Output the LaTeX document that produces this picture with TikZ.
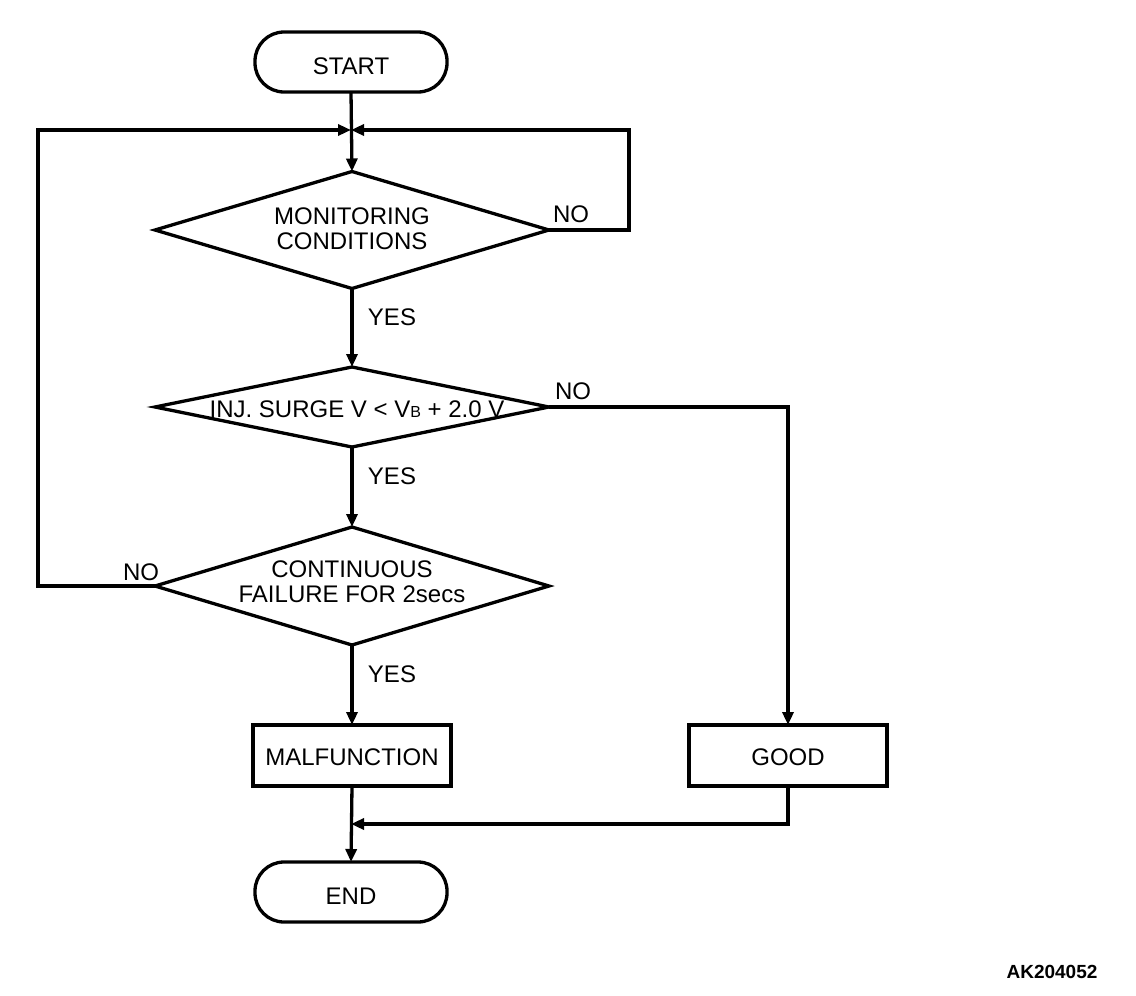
\documentclass[tikz,border=0pt]{standalone}
\usepackage{fontspec}
\setmainfont{Liberation Sans}
\usetikzlibrary{shapes.geometric,arrows.meta}
\newcommand{\dropby}[2]{\raisebox{-#1}[\height][\depth]{#2}}
\begin{document}
\begin{tikzpicture}[x=1pt,y=-1pt,
  line width=3.3pt,
  every node/.style={font=\fontsize{24}{25}\selectfont},
  term/.style={draw,rectangle,rounded corners=29pt,minimum width=192pt,minimum height=60pt,inner sep=0pt,outer sep=0pt},
  procbox/.style={draw,rectangle,minimum width=198pt,minimum height=61pt,inner sep=0pt,outer sep=0pt},
  dia/.style={draw,diamond,inner sep=0pt,outer sep=0pt,minimum width=394pt},
  txt/.style={align=center,inner sep=0pt},
  lbl/.style={inner sep=0pt},
  arr/.style={-{Triangle[length=13pt,width=11pt]}},
]
\useasboundingbox (0,0) rectangle (1136,996);
\node[term] (start) at (351,62) {\dropby{4pt}{START}};
\node[dia,minimum height=117pt] (d1) at (352,230) {};
\node[txt] (d1t) at (352,229) {MONITORING\\CONDITIONS};
\node[dia,minimum height=80pt] (d2) at (352,407) {};
\node[txt] (d2t) at (357,409) {INJ. SURGE V < V{\fontsize{16}{16}\selectfont B} + 2.0 V};
\node[dia,minimum height=118pt] (d3) at (352,586) {};
\node[txt] (d3t) at (352,582) {CONTINUOUS\\FAILURE FOR 2secs};
\node[procbox] (mal) at (352,755.5) {\dropby{2pt}{MALFUNCTION}};
\node[procbox] (good) at (788,755.5) {\dropby{2pt}{GOOD}};
\node[term] (end) at (351,892) {\dropby{4pt}{END}};
\coordinate (j) at (351,130);
\coordinate (m) at (351,824);

\draw[arr] (start.south) -- (d1.north);
\draw[arr] (d1.east) -- (629,230) -- (629,130) -- (j);
\draw[arr] (d3.west) -- (38,586) -- (38,130) -- (j);
\draw[arr] (d1.south) -- (d2.north);
\draw[arr] (d2.south) -- (d3.north);
\draw[arr] (d3.south) -- (mal.north);
\draw[arr] (d2.east) -- (788,407) -- (good.north);
\draw[arr] (mal.south) -- (end.north);
\draw[arr] (good.south) -- (788,824) -- (m);

\node[lbl] (n1) at (571,214) {NO};
\node[lbl] (y1) at (392,317) {YES};
\node[lbl] (n2) at (573,391) {NO};
\node[lbl] (y2) at (392,476) {YES};
\node[lbl] (n3) at (141,572) {NO};
\node[lbl] (y3) at (392,674) {YES};
\node[lbl,font=\fontsize{19}{19}\selectfont\bfseries] (code) at (1052,972) {AK204052};
\end{tikzpicture}
\end{document}
